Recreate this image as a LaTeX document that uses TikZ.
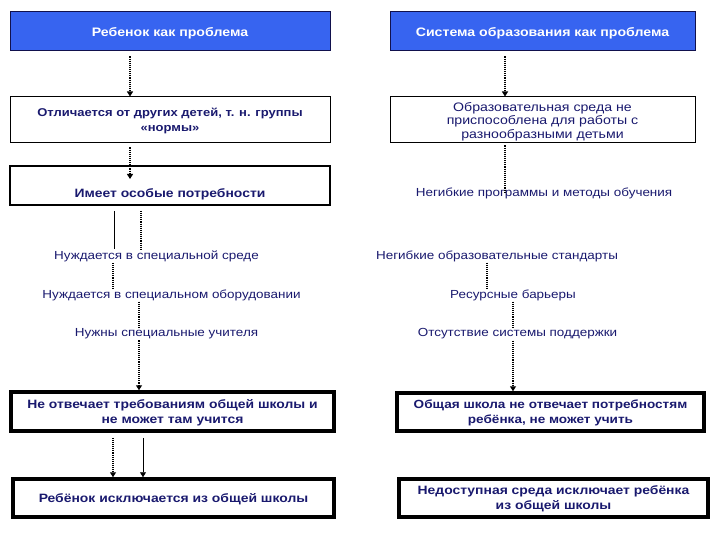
\documentclass[tikz,border=0pt]{standalone}
\usepackage{fontspec}
\setmainfont{Liberation Sans}
\newfontfamily\wfont[FakeStretch=1.15]{Liberation Sans}
\usetikzlibrary{arrows.meta}
\definecolor{navy}{RGB}{25,25,110}
\definecolor{tblue}{RGB}{55,100,240}
\begin{document}
\begin{tikzpicture}[x=1pt,y=-1pt,
  title/.style={draw=navy!70!black,line width=1pt,fill=tblue,text=white,font=\wfont\bfseries\fontsize{12.3}{15}\selectfont,inner sep=0pt,text depth=0pt},
  thinbox/.style={draw=black,line width=1pt,text=navy,align=center,inner sep=0pt,text depth=0pt,font=\wfont\fontsize{12}{14.5}\selectfont},
  midbox/.style={draw=black,line width=2pt,text=navy,align=center,inner sep=0pt,font=\wfont\bfseries\fontsize{12.1}{14.5}\selectfont},
  thickbox/.style={draw=black,line width=3.5pt,text=navy,align=center,inner sep=0pt,text depth=0pt,font=\wfont\bfseries\fontsize{12.1}{15}\selectfont},
  lbl/.style={text=navy,inner sep=1pt,font=\wfont\fontsize{11.7}{14}\selectfont},
  dot/.style={densely dotted,line width=1.1pt},
  sol/.style={line width=0.8pt},
  tip/.style={-{Triangle[length=5pt,width=6pt]}}
]
\useasboundingbox (0,0) rectangle (720,540);
% left column
\node[title,minimum width=320,minimum height=39] (t1) at (170,31.5) {Ребенок как проблема};
\node[thinbox,font=\wfont\bfseries\fontsize{11.3}{15}\selectfont,minimum width=320,minimum height=46] (b2) at (170,120) {Отличается от других детей, т. н. группы\\«нормы»};
\node[midbox,minimum width=320,minimum height=39] (b3) at (170,185.5) {\raisebox{-12pt}[0pt][0pt]{Имеет особые потребности}};
\node[lbl] (n1) at (156.5,256) {Нуждается в специальной среде};
\node[lbl] (n2) at (171.5,295) {Нуждается в специальном оборудовании};
\node[lbl] (n3) at (166.5,334) {Нужны специальные учителя};
\node[thickbox,minimum width=323,minimum height=39] (b4) at (172.5,411.5) {Не отвечает требованиям общей школы и\\не может там учится};
\node[thickbox,minimum width=321,minimum height=38] (b5) at (173.5,498) {Ребёнок исключается из общей школы};
% right column
\node[title,minimum width=305,minimum height=39] (t2) at (542.5,31.5) {Система образования как проблема};
\node[thinbox,font=\wfont\fontsize{12.3}{13.5}\selectfont,minimum width=305,minimum height=46] (r2) at (542.5,120) {Образовательная среда не\\приспособлена для работы с\\разнообразными детьми};
\node[lbl] (m1) at (544,193) {Негибкие программы и методы обучения};
\node[lbl] (m2) at (497,256) {Негибкие образовательные стандарты};
\node[lbl] (m3) at (513,295) {Ресурсные барьеры};
\node[lbl] (m4) at (517.5,334) {Отсутствие системы поддержки};
\node[thickbox,font=\wfont\bfseries\fontsize{11.8}{15}\selectfont,minimum width=307,minimum height=38] (r4) at (550.5,412) {Общая школа не отвечает потребностям\\ребёнка, не может учить};
\node[thickbox,minimum width=309,minimum height=38] (r5) at (553.5,498) {Недоступная среда исключает ребёнка\\из общей школы};
% left connectors
\draw[dot,tip] ([yshift=-5]t1.south -| 130,0) -- (b2.north -| 130,0);
\draw[dot,tip] ([yshift=-4]b2.south -| 130,0) -- ([yshift=-14]b3.north -| 130,0);
\draw[sol] ([yshift=-5]b3.south -| 114,0) -- (n1.north -| 114,0);
\draw[dot] ([yshift=-5]b3.south -| 141,0) -- (n1.north -| 141,0);
\draw[dot] (n1.south -| 113,0) -- (n2.north -| 113,0);
\draw[dot] (n2.south -| 139,0) -- (n3.north -| 139,0);
\draw[dot,tip] (n3.south -| 139,0) -- (b4.north -| 139,0);
\draw[dot,tip] ([yshift=-5]b4.south -| 113,0) -- (b5.north -| 113,0);
\draw[sol,tip] ([yshift=-5]b4.south -| 143,0) -- (b5.north -| 143,0);
% right connectors
\draw[dot,tip] ([yshift=-5]t2.south -| 505,0) -- (r2.north -| 505,0);
\draw[dot] ([yshift=-2]r2.south -| 505,0) -- (m1.center -| 505,0);
\draw[dot] (m2.south -| 487,0) -- (m3.north -| 487,0);
\draw[dot] (m3.south -| 513,0) -- (m4.north -| 513,0);
\draw[dot,tip] (m4.south -| 513,0) -- (r4.north -| 513,0);
\end{tikzpicture}
\end{document}
